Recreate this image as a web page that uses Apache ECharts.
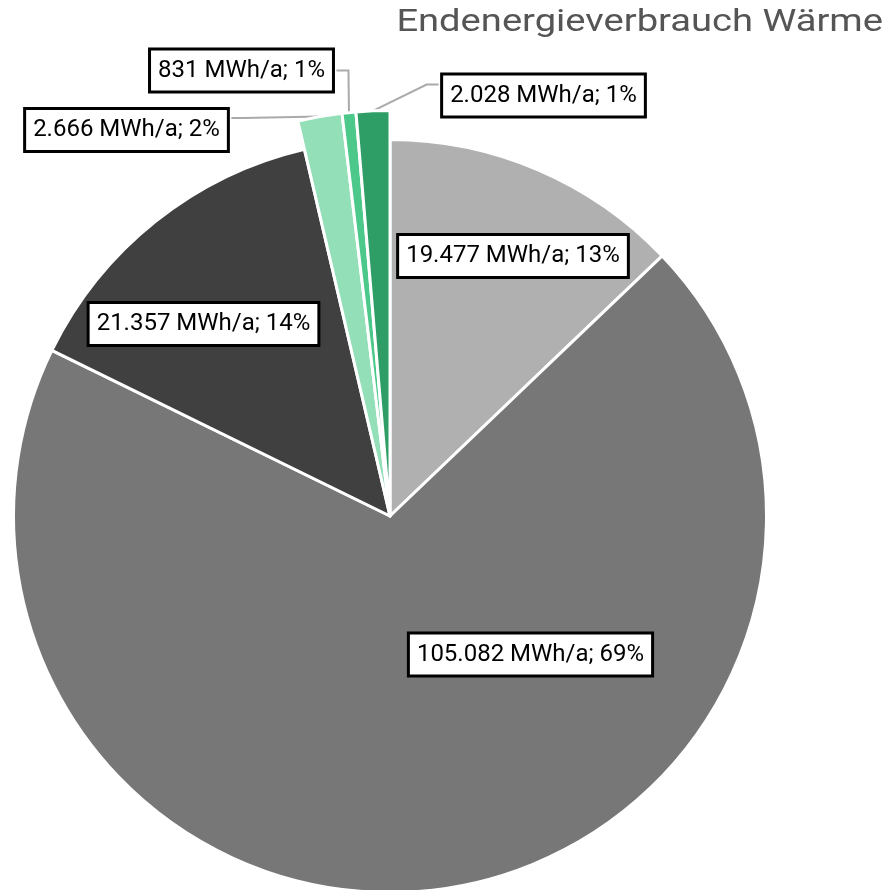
<!DOCTYPE html>
<html>
<head>
<meta charset="utf-8">
<script src="https://cdn.jsdelivr.net/npm/echarts@6/dist/echarts.min.js"></script>
<style>
html,body{margin:0;padding:0;background:#fff;}
#chart{width:888px;height:890px;}
</style>
</head>
<body>
<div id="chart"></div>
<script>
// ---- data ----
var categories = ['Kat. 1', 'Kat. 2', 'Kat. 3', 'Kat. 4', 'Kat. 5', 'Kat. 6'];
var values = [19477, 105082, 21357, 2666, 831, 2028];
var unit = 'MWh/a';
var titleText = 'Endenergieverbrauch Wärme';

// ---- styles / layout (not data) ----
var colors = ['#b0b0b0', '#777777', '#404040', '#93dfb8', '#4cc88a', '#2f9e66'];
var isGreen = [false, false, false, true, true, true];
var center = [390, 516];
var labelOffsets = [[123, -260], [140.5, 138.5], [-186.5, -192], [-263.5, -386], [-148.5, -445.5], [153.5, -420.5]];
var lineAttachDy = [0, 0, 0, -12, 0, -11];
var lineTail = 12;

function fmt(v) {
  var s = String(v);
  return s.replace(/\B(?=(\d{3})+(?!\d))/g, '.');
}
function labelFmt(p) {
  return fmt(p.value) + ' ' + unit + '; ' + Math.round(p.percent) + '%';
}

function buildData(green) {
  return categories.map(function (c, i) {
    var show = isGreen[i] === green;
    return {
      name: c,
      value: values[i],
      itemStyle: show ? { color: colors[i], borderColor: '#fff', borderWidth: 3 }
                      : { color: 'rgba(0,0,0,0)', borderWidth: 0 },
      label: { show: show },
      labelLine: { show: show && green }
    };
  });
}

var labelStyle = {
  formatter: labelFmt,
  fontFamily: 'Roboto',
  fontSize: 24,
  lineHeight: 28,
  color: '#000',
  backgroundColor: '#fff',
  borderColor: '#000',
  borderWidth: 3,
  padding: [6, 7]
};

function layoutFn(params) {
  var i = params.dataIndex;
  var o = labelOffsets[i];
  var cx = center[0] + o[0], cy = center[1] + o[1];
  var res = { x: cx, y: cy, align: 'center', verticalAlign: 'middle' };
  var pts = params.labelLinePoints;
  if (isGreen[i] && pts && pts.length) {
    var a = pts[0];
    var hw = params.labelRect.width / 2 + 1.5;
    var ey = cy + lineAttachDy[i];
    var ex, bx;
    if (cx < a[0]) { ex = cx + hw; bx = ex + lineTail; }
    else { ex = cx - hw; bx = ex - lineTail; }
    res.labelLinePoints = [[a[0], a[1]], [bx, ey], [ex, ey]];
  }
  return res;
}

var chart = echarts.init(document.getElementById('chart'));
chart.setOption({
  animation: false,
  graphic: [{
    type: 'text',
    right: 5,
    top: 8,
    scaleX: 1.23,
    silent: true,
    style: {
      text: titleText,
      fontFamily: 'Roboto',
      fontSize: 31,
      fontWeight: 'normal',
      fill: '#555555'
    }
  }],
  series: [
    {
      type: 'pie',
      center: center,
      radius: [0, 376.5],
      startAngle: 90,
      clockwise: true,
      silent: true,
      avoidLabelOverlap: false,
      label: Object.assign({ position: 'inside' }, labelStyle),
      labelLine: { show: false },
      labelLayout: layoutFn,
      data: buildData(false)
    },
    {
      type: 'pie',
      center: center,
      radius: [0, 405.5],
      startAngle: 90,
      clockwise: true,
      silent: true,
      avoidLabelOverlap: false,
      label: Object.assign({ position: 'outside' }, labelStyle),
      labelLine: { show: true, length: 20, length2: 10, lineStyle: { color: '#aaaaaa', width: 2 } },
      labelLayout: layoutFn,
      data: buildData(true)
    }
  ]
});
</script>
</body>
</html>
